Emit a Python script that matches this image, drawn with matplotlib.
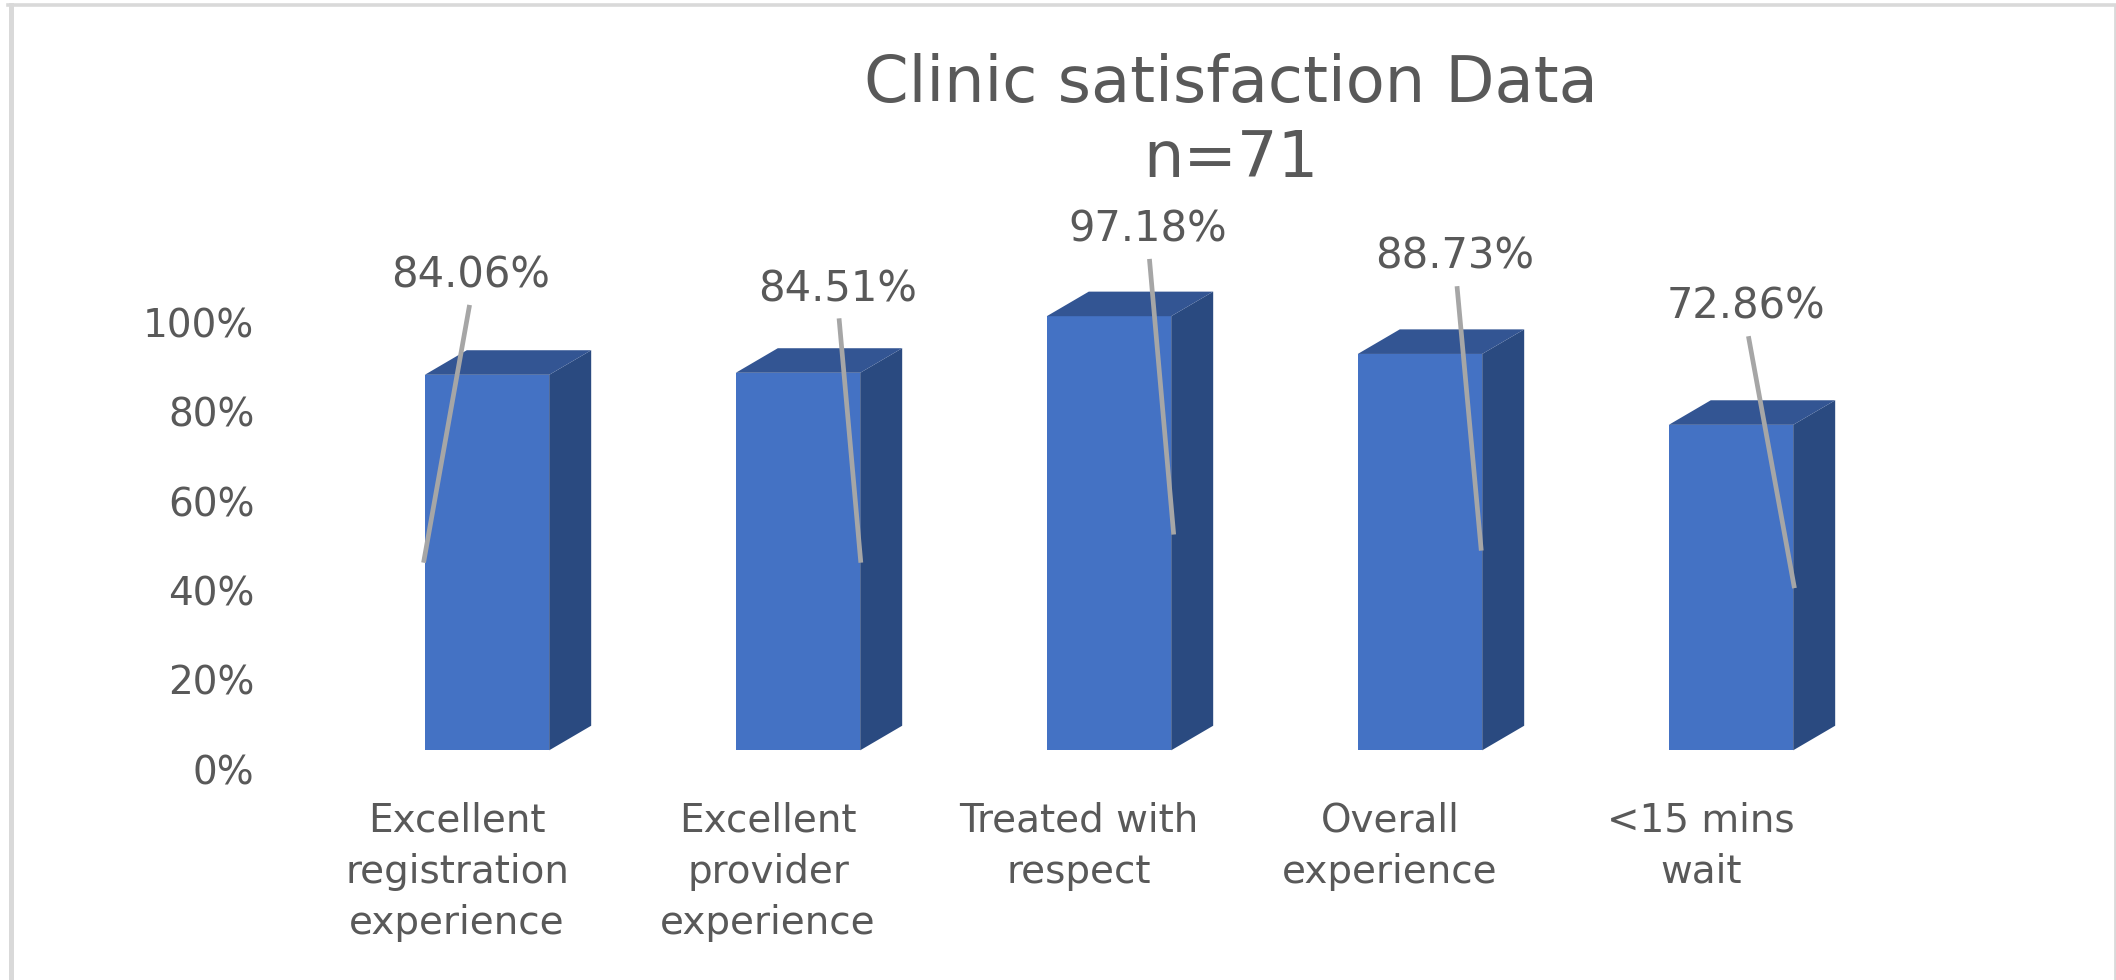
import matplotlib
matplotlib.use("Agg")
import matplotlib.pyplot as plt
from matplotlib.lines import Line2D
from matplotlib.patches import Polygon

categories = ["Excellent\nregistration\nexperience", "Excellent\nprovider\nexperience",
              "Treated with\nrespect", "Overall\nexperience", "<15 mins\nwait"]
values = [84.06, 84.51, 97.18, 88.73, 72.86]
y_ticks = [0, 20, 40, 60, 80, 100]

# where the data labels and their leader lines sit, in axis units
label_x = [-0.052, 1.128, 2.126, 3.111, 4.048]
label_y = [106.2, 103.2, 116.5, 110.5, 99.3]
line_start_x = [-0.056, 1.132, 2.130, 3.119, 4.056]
line_start_y = [99.7, 96.7, 110.0, 103.9, 92.7]
line_end_x = [-0.204, 1.202, 2.208, 3.197, 4.204]
line_end_y = [42.0, 42.0, 48.3, 44.7, 36.3]

W, H = 2116, 980
text_color = "#595959"
frame_color = "#D9D9D9"
plt.rcParams["font.family"] = ["DejaVu Sans"]

fig = plt.figure(figsize=(W / 100, H / 100), dpi=100, facecolor="white")

# frame around the chart, open at the bottom
fig.add_artist(Line2D([10.5 / W, 10.5 / W], [0, 1 - 5 / H], color=frame_color, linewidth=3.6))
fig.add_artist(Line2D([8 / W, 2115 / W], [1 - 5 / H, 1 - 5 / H], color=frame_color, linewidth=2.6))
fig.add_artist(Line2D([2115 / W, 2115 / W], [0, 1 - 5 / H], color=frame_color, linewidth=2))

# the bars axes, in pixels of the figure
left, right, base, top = 331.5, 1886.5, 750.3, 303.6
ax = fig.add_axes([left / W, 1 - base / H, (right - left) / W, (base - top) / H])
ax.set_xlim(-0.5, 4.5)
ax.set_ylim(0, 100)
ax.axis("off")

# tick labels sit lower and further left than the bars, as in a 3D Excel chart
ax_ticks = fig.add_axes([(left - 30) / W, 1 - (base + 19) / H, (right - left) / W, (base - top) / H], zorder=-1)
ax_ticks.set_xlim(-0.5, 4.5)
ax_ticks.set_ylim(0, 100)
ax_ticks.patch.set_visible(False)
for s in ax_ticks.spines.values():
    s.set_visible(False)
ax_ticks.set_yticks(y_ticks)
ax_ticks.set_yticklabels([f"{t}%" for t in y_ticks])
ax_ticks.set_xticks(range(len(categories)))
ax_ticks.set_xticklabels(categories, linespacing=1.45)
ax_ticks.tick_params(axis="y", length=0, pad=34, labelsize=28, labelcolor=text_color)
ax_ticks.tick_params(axis="x", length=0, pad=23, labelsize=28, labelcolor=text_color)

bar_w = 0.4
depth_x = 0.135
depth_y = 5.5
ax.bar(range(len(values)), values, width=bar_w, color="#4472C4", zorder=3, clip_on=False)
for i, v in enumerate(values):
    x0, x1 = i - bar_w / 2, i + bar_w / 2
    ax.add_patch(Polygon([(x1, 0), (x1 + depth_x, depth_y), (x1 + depth_x, v + depth_y), (x1, v)],
                         facecolor="#2A4A80", edgecolor="none", zorder=3, clip_on=False))
    ax.add_patch(Polygon([(x0, v), (x0 + depth_x, v + depth_y), (x1 + depth_x, v + depth_y), (x1, v)],
                         facecolor="#335593", edgecolor="none", zorder=3, clip_on=False))
    ax.plot([line_start_x[i], line_end_x[i]], [line_start_y[i], line_end_y[i]],
            color="#A6A6A6", linewidth=3.4, zorder=4, clip_on=False, solid_capstyle="butt")
    ax.text(label_x[i], label_y[i], f"{v:.2f}%", ha="center", va="center", fontsize=30,
            color=text_color, clip_on=False)

fig.text(912 / 1568, 1 - 62 / 726, "Clinic satisfaction Data", ha="center", va="center",
         fontsize=46, color=text_color)
fig.text(912 / 1568, 1 - 118 / 726, "n=71", ha="center", va="center",
         fontsize=46, color=text_color)

fig.savefig("out.png", dpi=100)
